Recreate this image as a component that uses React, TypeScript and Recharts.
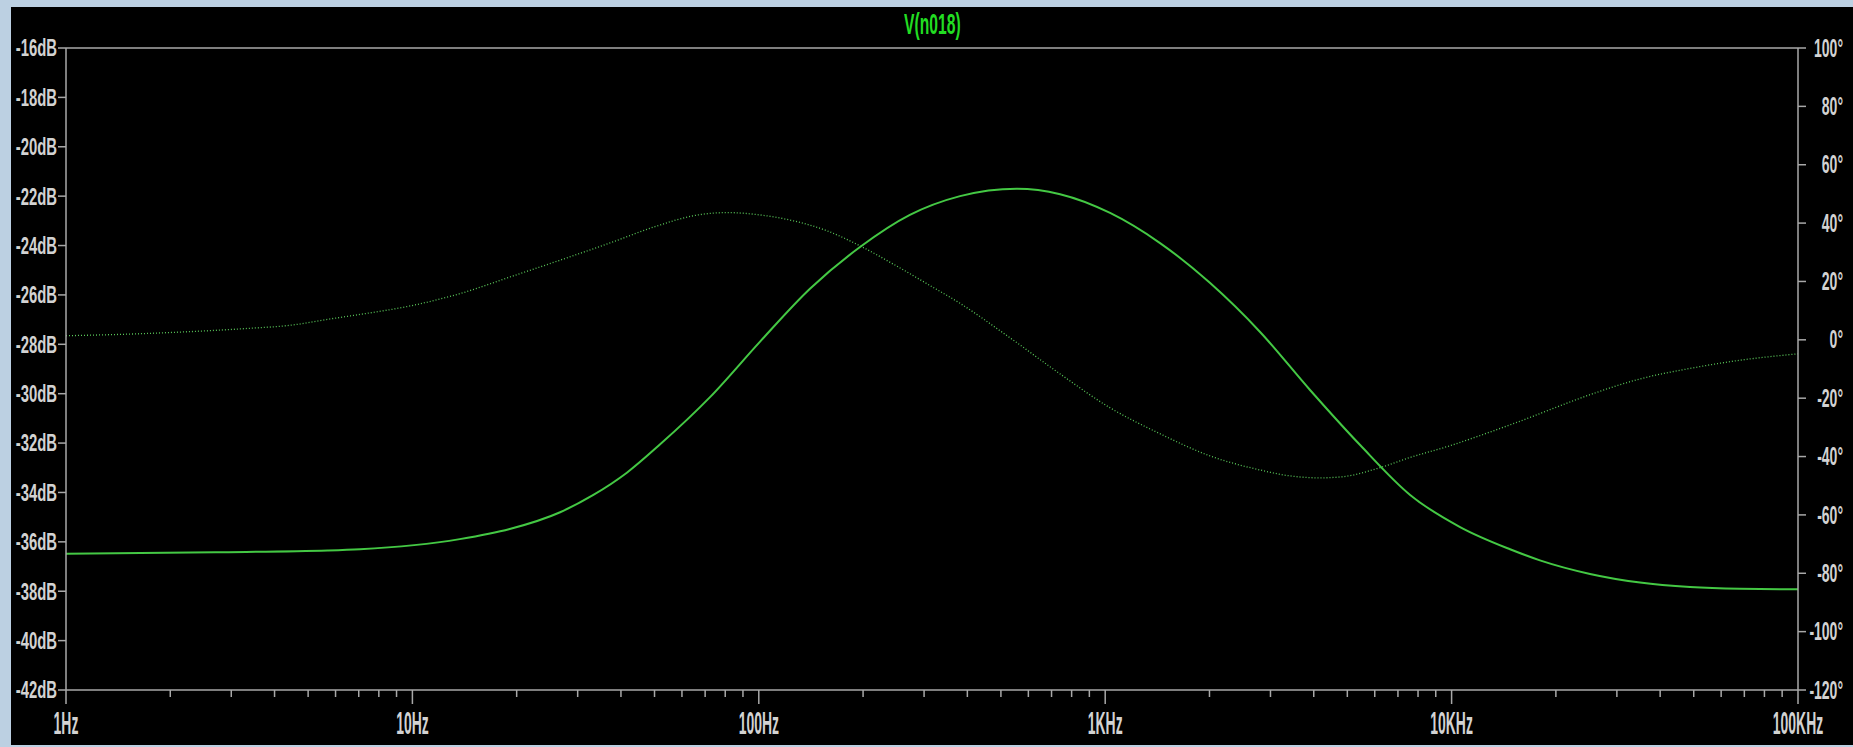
import { LineChart, Line, XAxis, YAxis, ReferenceLine } from 'recharts';

// magnitude of V(n018) (Hz, dB)
const magFreq = [1, 2.7, 5.7, 7.06, 13.7, 19.1, 26.7, 33.3, 41.6, 51.9, 72.3, 100.7, 140.5, 196, 273, 381, 556, 741, 1033, 1440, 2009, 2800, 3902, 5444, 7591, 10580, 14750, 17990, 25100, 35000, 48800, 68000, 100000];
const magDb = [-36.48, -36.42, -36.35, -36.3, -35.89, -35.48, -34.8, -34.1, -33.2, -32.05, -30.14, -27.9, -25.75, -24.06, -22.76, -22.0, -21.7, -21.92, -22.68, -23.9, -25.52, -27.5, -29.85, -32.08, -34.1, -35.4, -36.3, -36.75, -37.3, -37.65, -37.83, -37.9, -37.92];

// phase of V(n018) (Hz, degrees)
const phaseFreq = [1, 1.56, 2.18, 3.24, 4.52, 5.9, 7.06, 9.84, 13.7, 19.1, 26.7, 37.2, 50.8, 64.6, 80.9, 100.7, 125.6, 157, 196, 244, 306, 381, 531, 741, 1033, 1440, 2009, 2800, 3400, 4170, 4860, 6100, 7591, 9890, 12910, 16500, 20150, 25100, 35000, 48800, 68000, 100000];
const phaseDeg = [1.4, 2.0, 2.7, 3.8, 5.1, 7.3, 8.7, 11.6, 15.8, 21.5, 27.3, 33.2, 39.0, 42.5, 43.6, 42.8, 40.8, 37.4, 32.2, 26.0, 19.2, 12.5, 0.7, -11.7, -23.3, -32.2, -39.8, -44.6, -46.6, -47.3, -46.9, -44.1, -40.3, -36.3, -31.6, -27.0, -23.0, -18.8, -13.4, -9.8, -7.0, -4.8];

const freqTicks = [1, 2, 3, 4, 5, 6, 7, 8, 9, 10, 20, 30, 40, 50, 60, 70, 80, 90, 100, 200, 300, 400, 500, 600, 700, 800, 900, 1000, 2000, 3000, 4000, 5000, 6000, 7000, 8000, 9000, 10000, 20000, 30000, 40000, 50000, 60000, 70000, 80000, 90000, 100000];
const freqLabels: Record<number, string> = { 1: '1Hz', 10: '10Hz', 100: '100Hz', 1000: '1KHz', 10000: '10KHz', 100000: '100KHz' };
const dbTicks = [-42, -40, -38, -36, -34, -32, -30, -28, -26, -24, -22, -20, -18, -16];
const degTicks = [-120, -100, -80, -60, -40, -20, 0, 20, 40, 60, 80, 100];

const magData = magFreq.map((f, i) => ({ f, db: magDb[i] }));
const phaseData = phaseFreq.map((f, i) => ({ f, deg: phaseDeg[i] }));

const AXIS = '#a8a8a8';
const LABEL = '#d2d2d2';
const TRACE = '#44c844';
const FONT = "'Liberation Sans', Arial, sans-serif";

function LeftTick({ x, y, payload }: any) {
  return (
    <g transform={`translate(${x},${y})`}>
      <text transform="scale(0.62,1)" textAnchor="end" dominantBaseline="central" fill={LABEL} fontSize={24} fontWeight="bold" fontFamily={FONT}>
        {`${payload.value}dB`}
      </text>
    </g>
  );
}

function RightTick({ x, y, payload }: any) {
  return (
    <g transform={`translate(${x + 35},${y})`}>
      <text transform="scale(0.56,1)" textAnchor="end" dominantBaseline="central" fill={LABEL} fontSize={25} fontWeight="bold" fontFamily={FONT}>
        {`${payload.value}°`}
      </text>
    </g>
  );
}

function BottomTick({ x, y, payload }: any) {
  const label = freqLabels[payload.value];
  return (
    <g>
      <line x1={x} x2={x} y1={y} y2={y + (label ? 14 : 7)} stroke={AXIS} strokeWidth={1.5} />
      {label && (
        <g transform={`translate(${x},${y + 33})`}>
          <text transform="scale(0.45,1)" textAnchor="middle" dominantBaseline="central" fill={LABEL} fontSize={31} fontWeight="bold" fontFamily={FONT}>
            {label}
          </text>
        </g>
      )}
    </g>
  );
}

export default function App() {
  return (
    <div style={{ position: 'absolute', left: 0, top: 0, width: 1853, height: 747, background: '#bcd0e2', overflow: 'hidden' }}>
      <div style={{ position: 'absolute', left: 11, top: 7, width: 1842, height: 738, background: '#000' }}>
        <div
          style={{
            position: 'absolute', left: 55, top: 3, width: 1732, textAlign: 'center',
            fontFamily: FONT, fontSize: 29, fontWeight: 'bold', lineHeight: '29px', color: '#22dd22',
          }}
        >
          <span style={{ display: 'inline-block', transform: 'scaleX(0.54)' }}>V(n018)</span>
        </div>
        <LineChart width={1842} height={738} margin={{ top: 41, right: 0, bottom: 0, left: 0 }}>
          <XAxis
            dataKey="f"
            type="number"
            scale="log"
            domain={[1, 100000]}
            ticks={freqTicks}
            interval={0}
            allowDataOverflow
            height={55}
            stroke={AXIS}
            strokeWidth={1.5}
            tickLine={false}
            tickSize={0}
            tickMargin={0}
            tick={<BottomTick />}
          />
          <YAxis
            yAxisId="db"
            orientation="left"
            domain={[-42, -16]}
            ticks={dbTicks}
            interval={0}
            width={55}
            stroke={AXIS}
            strokeWidth={1.5}
            tickSize={8}
            tickMargin={1}
            tick={<LeftTick />}
          />
          <YAxis
            yAxisId="deg"
            orientation="right"
            domain={[-120, 100]}
            ticks={degTicks}
            interval={0}
            width={55}
            stroke={AXIS}
            strokeWidth={1.5}
            tickSize={8}
            tickMargin={2}
            tick={<RightTick />}
          />
          <ReferenceLine yAxisId="db" y={-16} stroke={AXIS} strokeWidth={1.5} />
          <Line
            yAxisId="deg"
            data={phaseData}
            dataKey="deg"
            type="monotone"
            stroke="#5ac85a"
            strokeWidth={1.3}
            strokeDasharray="1 2"
            dot={false}
            isAnimationActive={false}
          />
          <Line
            yAxisId="db"
            data={magData}
            dataKey="db"
            type="monotone"
            stroke={TRACE}
            strokeWidth={2}
            dot={false}
            isAnimationActive={false}
          />
        </LineChart>
      </div>
    </div>
  );
}
